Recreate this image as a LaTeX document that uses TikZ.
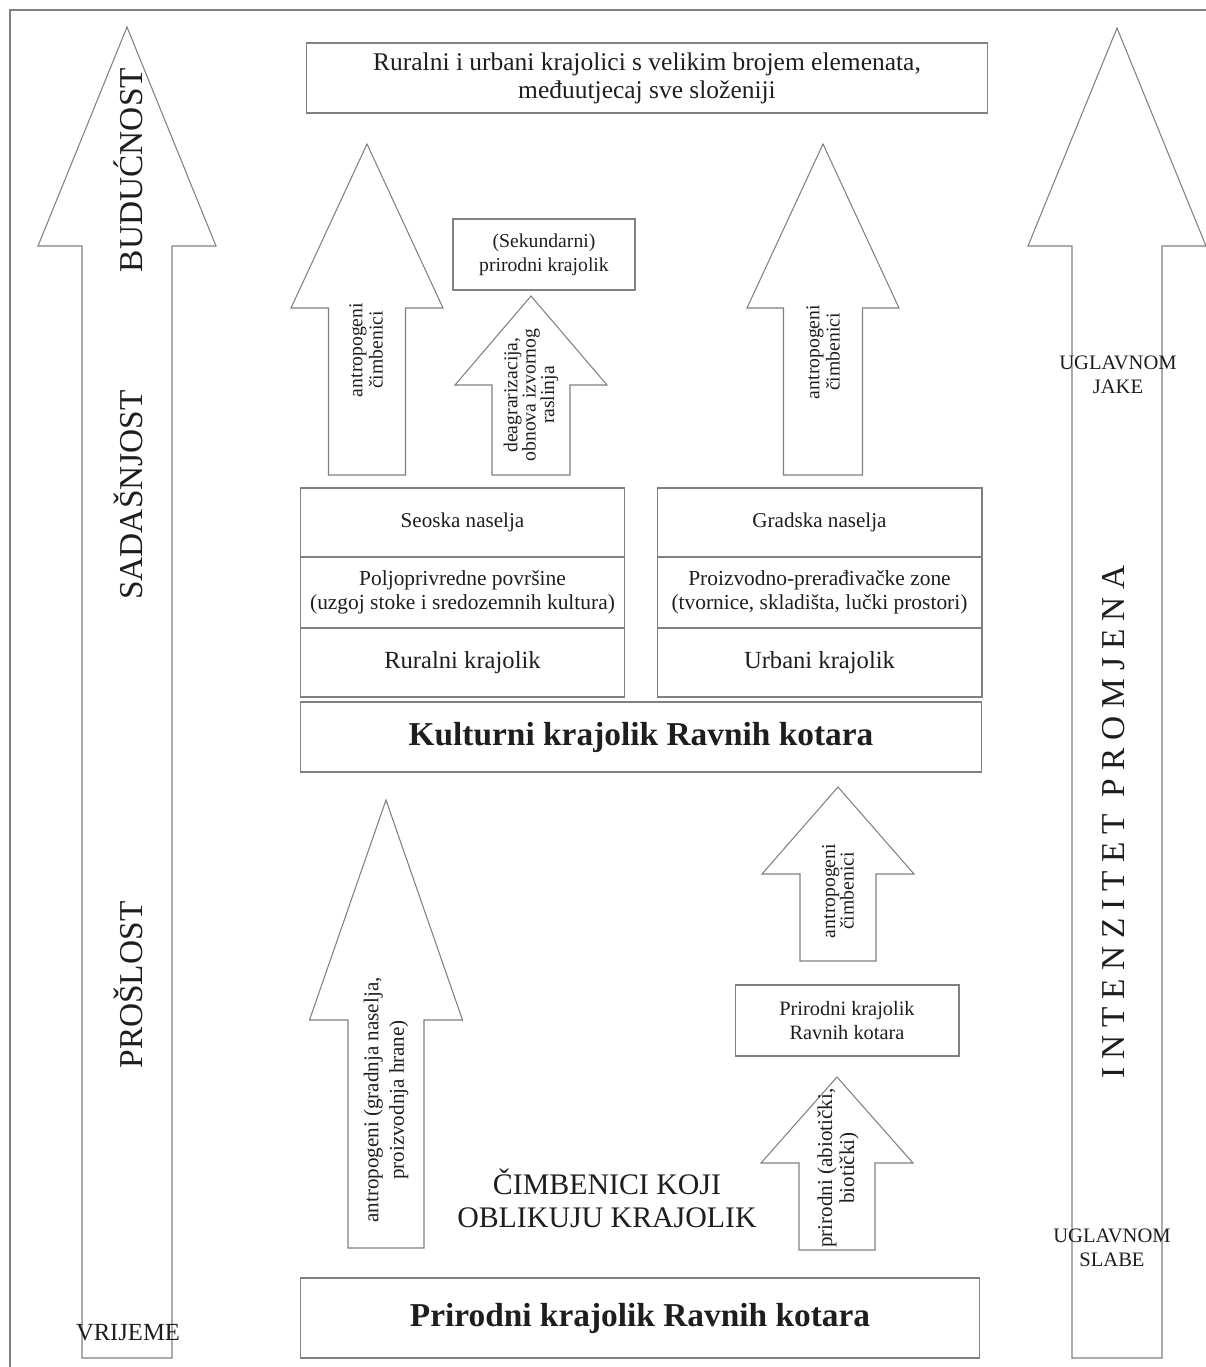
\documentclass[tikz,border=0pt]{standalone}
\usepackage{fontspec}
\setmainfont{Liberation Serif}
\newfontfamily\spacedfont[LetterSpace=24]{Liberation Serif}
\usetikzlibrary{positioning}
\definecolor{lineGray}{RGB}{128,128,128}
\definecolor{textDark}{RGB}{30,30,30}
% block arrow pointing up: x, tip y, head base y, bottom y, head half width, shaft half width
\newcommand{\upblock}[6]{%
  \draw[blockarrow] (#1-#6,#4) -- (#1-#6,#3) -- (#1-#5,#3) -- (#1,#2) -- (#1+#5,#3) -- (#1+#6,#3) -- (#1+#6,#4) -- cycle;}

\begin{document}
\begin{tikzpicture}[x=0.02cm, y=-0.02cm,
        panel/.style={rectangle, draw=lineGray, line width=0.6pt, outer sep=0pt, inner sep=2pt, align=center, text=textDark},
        cell/.style={panel, minimum width=6.5cm},
        blockarrow/.style={draw=lineGray, line width=0.6pt, fill=white, line join=miter},
        inlabel/.style={rotate=90, align=center, text=textDark, font=\fontsize{11.2}{11.5}\selectfont},
        era/.style={rotate=90, text=textDark, font=\fontsize{19}{22}\selectfont},
        note/.style={align=center, text=textDark, font=\fontsize{11.7}{13.6}\selectfont}
    ]
        \useasboundingbox (0,0) rectangle (1206,1367);
        \draw[lineGray, line width=0.8pt] (10,1367) -- (10,10) -- (1206,10);

        % Time and intensity
        \upblock{127}{27}{246}{1358}{89}{45}
        \upblock{1117}{28}{246}{1358}{89}{45}
        \node[era] (buducnost) at (128,170) {BUDUĆNOST};
        \node[era] (sadasnjost) at (128,495) {SADAŠNJOST};
        \node[era] (proslost) at (128,985) {PROŠLOST};
        \node[text=textDark, font=\fontsize{14}{16}\selectfont] (vrijeme) at (128,1333) {VRIJEME};
        \node[note] (jake) at (1118,375) {UGLAVNOM\\JAKE};
        \node[rotate=90, text=textDark, font=\spacedfont\fontsize{19}{22}\selectfont] (intenzitet) at (1114,822) {INTENZITET PROMJENA};
        \node[note] (slabe) at (1112,1248) {UGLAVNOM\\SLABE};

        % Future
        \node[panel, minimum width=13.64cm, minimum height=1.4cm, font=\fontsize{14.5}{16}\selectfont] (future) at (647,78) {Ruralni i urbani krajolici s velikim brojem elemenata,\\međuutjecaj sve složeniji};

        % Upper arrows
        \upblock{367}{144}{308}{475}{76}{38.5}
        \upblock{531}{296}{385}{475}{76}{39}
        \upblock{823}{144}{308}{475}{76}{39.5}
        \node[inlabel] (antro1) at (366,350) {antropogeni\\čimbenici};
        \node[inlabel, font=\fontsize{11.2}{10.5}\selectfont] (deagrar) at (531,395) {deagrarizacija,\\obnova izvornog\\raslinja};
        \node[inlabel] (antro2) at (823,352) {antropogeni\\čimbenici};
        \node[panel, minimum width=3.64cm, minimum height=1.42cm, font=\fontsize{11.2}{13.6}\selectfont] (sekundarni) at (544,254.5) {(Sekundarni)\\prirodni krajolik};

        % Rural and urban landscape
        \node[cell, minimum height=1.38cm, font=\fontsize{12}{13.6}\selectfont] (seoska) at (462.5,522.5) {Seoska naselja};
        \node[cell, minimum height=1.42cm, below=0pt of seoska, font=\fontsize{12.2}{13.6}\selectfont] (polj) {Poljoprivredne površine\\(uzgoj stoke i sredozemnih kultura)};
        \node[cell, minimum height=1.38cm, below=0pt of polj, font=\fontsize{14}{16}\selectfont] (ruralni) {Ruralni krajolik};
        \node[cell, minimum height=1.38cm, font=\fontsize{12}{13.6}\selectfont] (gradska) at (819.5,522.5) {Gradska naselja};
        \node[cell, minimum height=1.42cm, below=0pt of gradska, font=\fontsize{12.2}{13.6}\selectfont] (proizv) {Proizvodno-prerađivačke zone\\(tvornice, skladišta, lučki prostori)};
        \node[cell, minimum height=1.38cm, below=0pt of proizv, font=\fontsize{14}{16}\selectfont] (urbani) {Urbani krajolik};

        % Cultural landscape
        \node[panel, minimum width=13.64cm, minimum height=1.4cm, font=\bfseries\fontsize{19}{22}\selectfont] (kulturni) at (641,737) {Kulturni krajolik Ravnih kotara};

        % Lower arrows
        \upblock{386}{800}{1020}{1248}{76.5}{38}
        \upblock{838}{787}{874}{961}{76}{38}
        \upblock{837}{1077}{1163}{1250}{76}{38}
        \node[inlabel, font=\fontsize{12}{14.5}\selectfont] (antro3) at (386,1100) {antropogeni (gradnja naselja,\\proizvodnja hrane)};
        \node[inlabel, font=\fontsize{11.2}{10.5}\selectfont] (antro4) at (838,891) {antropogeni\\čimbenici};
        \node[inlabel, font=\fontsize{12}{12.5}\selectfont] (prirodni) at (838,1168) {prirodni (abiotički,\\biotički)};
        \node[panel, minimum width=4.48cm, minimum height=1.42cm, font=\fontsize{11.6}{13.6}\selectfont] (prsmall) at (847,1020.5) {Prirodni krajolik\\Ravnih kotara};
        \node[text=textDark, align=center, font=\fontsize{17}{18.7}\selectfont] (cimbenici) at (607,1198) {ČIMBENICI KOJI\\OBLIKUJU KRAJOLIK};

        % Natural landscape
        \node[panel, minimum width=13.6cm, minimum height=1.6cm, font=\bfseries\fontsize{19}{22}\selectfont] (prbig) at (640,1318) {Prirodni krajolik Ravnih kotara};
    \end{tikzpicture}
\end{document}
